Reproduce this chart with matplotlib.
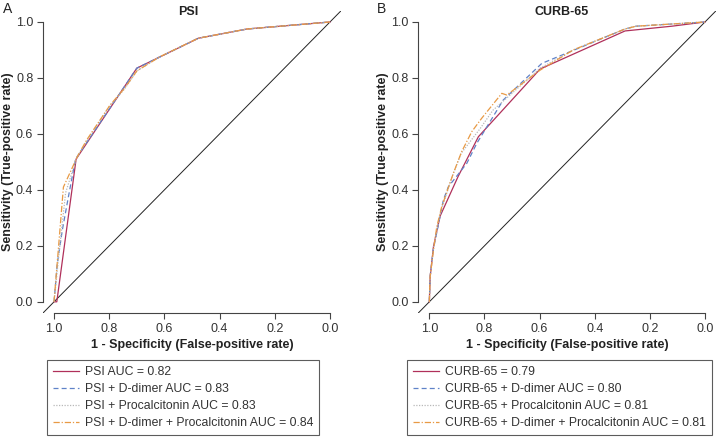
import matplotlib
matplotlib.use("Agg")
import matplotlib.pyplot as plt

plt.rcParams['font.family'] = ['Liberation Sans', 'DejaVu Sans']

# ---------------- data ----------------
ticks = [1.0, 0.8, 0.6, 0.4, 0.2, 0.0]
tick_labels = ["1.0", "0.8", "0.6", "0.4", "0.2", "0.0"]

# Panel A: PSI (x = specificity, plotted reversed)
psi_spec = [1.0, 0.99, 0.92, 0.70, 0.477, 0.30, 0.0]
psi_sens = [0.0, 0.0, 0.51, 0.835, 0.942, 0.975, 1.0]

psi_dd_spec = [1.0, 0.988, 0.970, 0.948, 0.922, 0.70, 0.477, 0.30, 0.0]
psi_dd_sens = [0.0, 0.138, 0.256, 0.375, 0.51, 0.835, 0.942, 0.975, 1.0]

psi_pct_spec = [1.0, 0.978, 0.958, 0.918, 0.88, 0.80, 0.745, 0.70, 0.62, 0.477, 0.30, 0.0]
psi_pct_sens = [0.0, 0.21, 0.39, 0.515, 0.578, 0.698, 0.76, 0.825, 0.874, 0.942, 0.975, 1.0]

psi_all_spec = [1.0, 0.966, 0.916, 0.882, 0.797, 0.743, 0.70, 0.616, 0.477, 0.30, 0.0]
psi_all_sens = [0.0, 0.41, 0.518, 0.578, 0.703, 0.765, 0.825, 0.876, 0.942, 0.975, 1.0]

# Panel B: CURB-65
curb_spec = [1.0, 0.997, 0.985, 0.961, 0.896, 0.822, 0.598, 0.29, 0.12, 0.0]
curb_sens = [0.0, 0.09, 0.197, 0.306, 0.447, 0.59, 0.832, 0.968, 0.985, 1.0]

curb_dd_spec = [1.0, 0.997, 0.985, 0.949, 0.931, 0.864, 0.828, 0.732, 0.592, 0.29, 0.25, 0.0]
curb_dd_sens = [0.0, 0.09, 0.19, 0.364, 0.411, 0.495, 0.566, 0.721, 0.852, 0.975, 0.985, 1.0]

curb_pct_spec = [1.0, 0.997, 0.985, 0.962, 0.92, 0.885, 0.815, 0.769, 0.707, 0.598, 0.478, 0.29, 0.25, 0.0]
curb_pct_sens = [0.0, 0.09, 0.19, 0.31, 0.44, 0.53, 0.62, 0.685, 0.739, 0.835, 0.90, 0.975, 0.985, 1.0]

curb_all_spec = [1.0, 0.997, 0.985, 0.973, 0.955, 0.913, 0.883, 0.846, 0.81, 0.737, 0.719, 0.598, 0.478, 0.29, 0.25, 0.0]
curb_all_sens = [0.0, 0.09, 0.185, 0.268, 0.34, 0.459, 0.536, 0.608, 0.656, 0.745, 0.739, 0.828, 0.90, 0.975, 0.985, 1.0]

psi_labels = ["PSI AUC = 0.82", "PSI + D-dimer AUC = 0.83",
              "PSI + Procalcitonin AUC = 0.83",
              "PSI + D-dimer + Procalcitonin AUC = 0.84"]
curb_labels = ["CURB-65 = 0.79", "CURB-65 + D-dimer AUC = 0.80",
               "CURB-65 + Procalcitonin AUC = 0.81",
               "CURB-65 + D-dimer + Procalcitonin AUC = 0.81"]

colors = ["#B0305A", "#5F82C8", "#B8B8B8", "#E89A45"]
styles = ["-", (0, (4, 2.5)), (0, (1, 1.2)), (0, (5, 1.5, 1, 1.5))]

W, H = 717, 438
FS = 9.0
LFS = 8.8
fig = plt.figure(figsize=(W / 100, H / 100), dpi=100)

def px(x0, y0, x1, y1):
    return [x0 / W, 1 - y1 / H, (x1 - x0) / W, (y1 - y0) / H]

axA = fig.add_axes(px(43, 10.8, 341, 313))
axB = fig.add_axes(px(418.3, 10.8, 716, 313))

panels = [
    (axA, [(psi_spec, psi_sens), (psi_dd_spec, psi_dd_sens),
           (psi_pct_spec, psi_pct_sens), (psi_all_spec, psi_all_sens)],
     psi_labels, "PSI", "A", 188, 8, 47),
    (axB, [(curb_spec, curb_sens), (curb_dd_spec, curb_dd_sens),
           (curb_pct_spec, curb_pct_sens), (curb_all_spec, curb_all_sens)],
     curb_labels, "CURB-65", "B", 562, 381, 407),
]

axis_col = "#444444"
for ax, series, labels, title, letter, tx, lx, legx in panels:
    ax.set_xlim(1.04, -0.04)
    ax.set_ylim(-0.04, 1.04)
    ax.axline((1.0, 0.0), (0.0, 1.0), color="#222222", lw=0.7, zorder=1)
    handles = []
    for (xs, ys), c, ls, lab in zip(series, colors, styles, labels):
        h, = ax.plot(xs, ys, color=c, linestyle=ls, lw=0.9, label=lab, zorder=2)
        handles.append(h)
    for s in ["top", "right"]:
        ax.spines[s].set_visible(False)
    ax.spines["left"].set_bounds(0, 1)
    ax.spines["bottom"].set_bounds(0, 1)
    for s in ["left", "bottom"]:
        ax.spines[s].set_color(axis_col)
        ax.spines[s].set_linewidth(0.8)
    ax.set_xticks(ticks)
    ax.set_xticklabels(tick_labels)
    ax.set_yticks(ticks[::-1])
    ax.set_yticklabels(tick_labels[::-1])
    ax.tick_params(direction="out", length=4, width=0.8, color=axis_col,
                   labelsize=FS, labelcolor="#333333", pad=3)
    ax.patch.set_alpha(0)
    ax.set_xlabel("1 - Specificity (False-positive rate)", fontsize=FS,
                  fontweight="bold", color="#222222", labelpad=3)
    ax.set_ylabel("Sensitivity (True-positive rate)", fontsize=FS,
                  fontweight="bold", color="#222222", labelpad=1.5)
    fig.text(tx / W, 1 - 12 / H, title, fontsize=FS, fontweight="bold",
             ha="center", va="center", color="#222222")
    fig.text(lx / W, 1 - 9 / H, letter, fontsize=10, ha="center",
             va="center", color="#222222")
    leg = ax.legend(handles=handles, loc="upper left",
                    bbox_to_anchor=(legx / W, 1 - 360 / H),
                    bbox_transform=fig.transFigure, fontsize=LFS,
                    frameon=True, fancybox=False, borderpad=0.5,
                    labelspacing=0.4, handlelength=2.15, handletextpad=0.45,
                    borderaxespad=0)
    leg.get_frame().set_edgecolor("#333333")
    leg.get_frame().set_linewidth(0.8)
    for t in leg.get_texts():
        t.set_color("#333333")

fig.savefig("out.png", dpi=100)
